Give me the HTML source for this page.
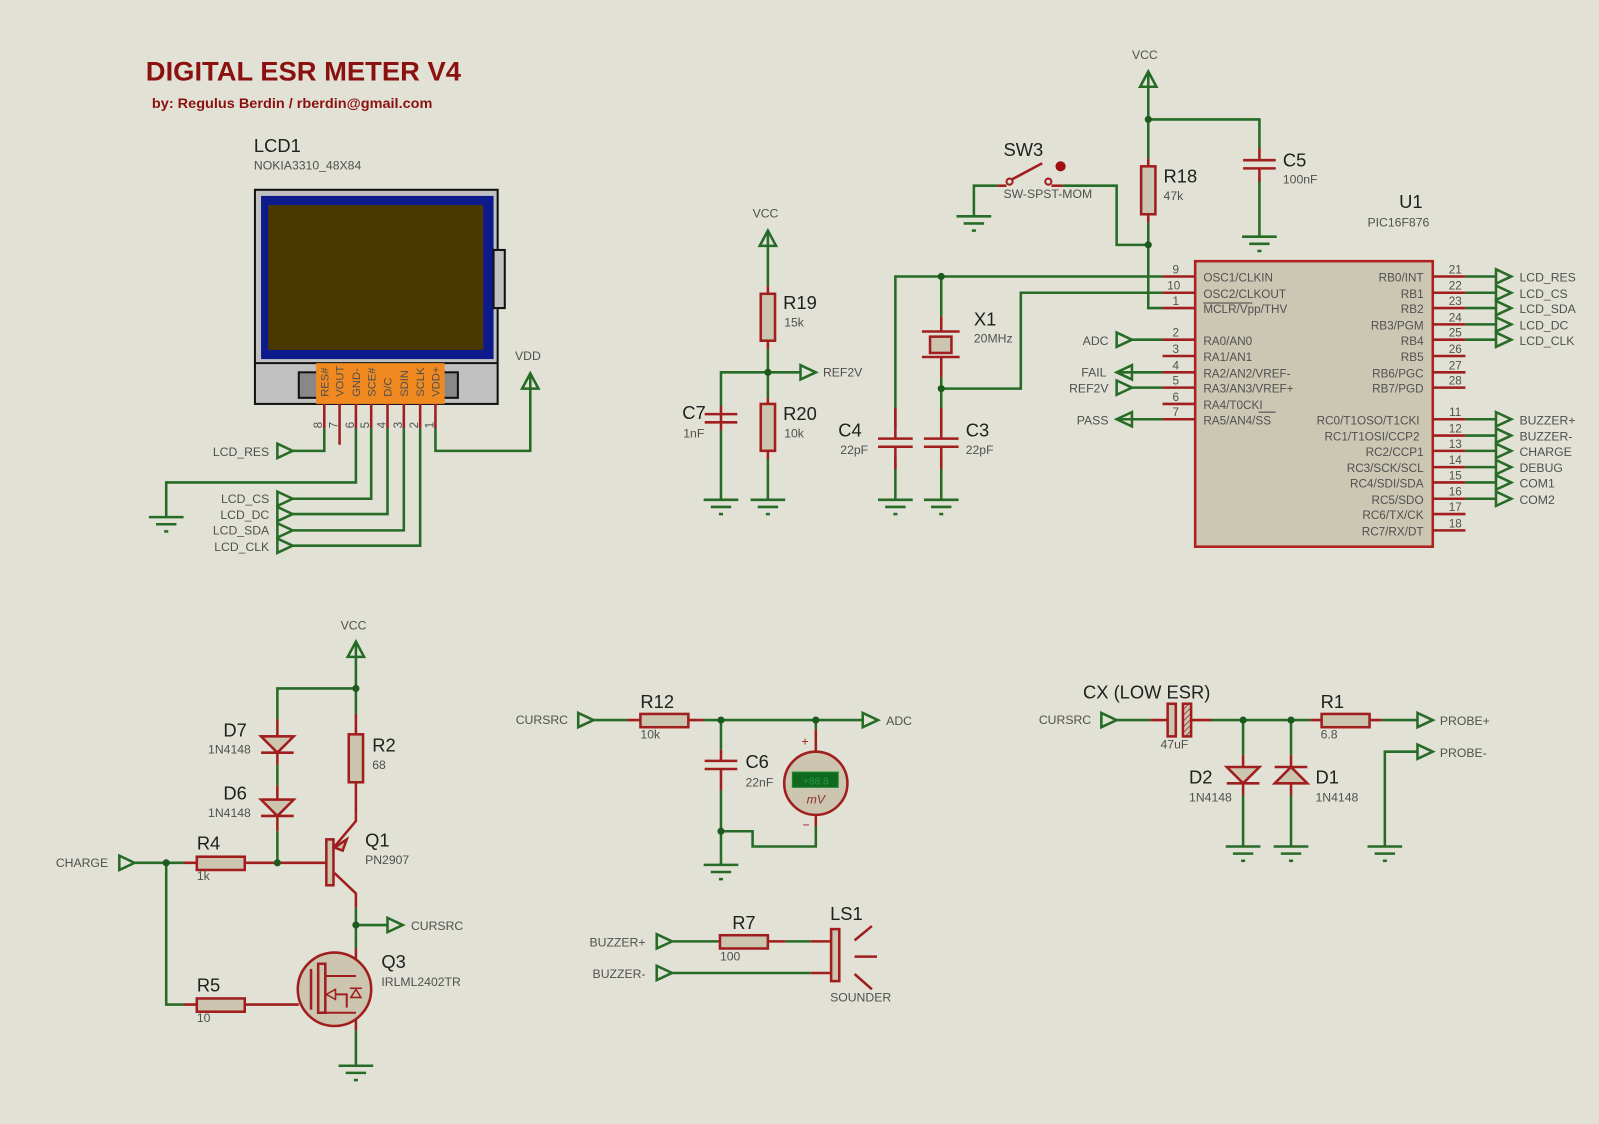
<!DOCTYPE html>
<html><head><meta charset="utf-8"><style>
html,body{margin:0;padding:0;background:#e2e1d5;}
svg{display:block;}
text{font-family:"Liberation Sans",sans-serif;fill:#505050;}
.big{font-size:18px;fill:#202020;}
.sm{font-size:12px;}
.pin{font-size:11.5px;fill:#404040;}
.g{stroke:#266b26;stroke-width:2.5;fill:none;}
.r{stroke:#a01e1e;stroke-width:2.5;fill:none;}
.rf{stroke:#a01e1e;stroke-width:2.5;fill:#ccc6b0;}
.ga{stroke:#266b26;stroke-width:2.5;fill:none;}
</style></head><body>
<svg width="1599" height="1124" viewBox="0 0 1568 1102" xmlns="http://www.w3.org/2000/svg">
<defs>
<g id="gnd"><line x1="-17" y1="0" x2="17" y2="0" class="g"/><line x1="-10" y1="7" x2="10" y2="7" class="g"/><line x1="-2" y1="14" x2="2" y2="14" class="g"/></g>
<g id="ar"><polygon points="0,-7 15,0 0,7" class="ga"/></g>
<g id="al"><polygon points="15,-7 0,0 15,7" class="ga"/></g>
<g id="pw"><polygon points="0,0 -8,15 8,15" class="ga"/><line x1="0" y1="0" x2="0" y2="15" class="g"/></g>
<pattern id="hatch" width="4" height="4" patternUnits="userSpaceOnUse" patternTransform="rotate(45)"><rect width="4" height="4" fill="#ccc6b0"/><line x1="0" y1="0" x2="0" y2="4" stroke="#a01e1e" stroke-width="1.5"/></pattern>
</defs>
<rect width="1568" height="1102" fill="#e2e1d5"/>

<!-- Title -->
<text x="143" y="79" textLength="309" lengthAdjust="spacingAndGlyphs" style="font-size:26px;font-weight:bold;fill:#8b1010">DIGITAL ESR METER V4</text>
<text x="149" y="106" textLength="275" lengthAdjust="spacingAndGlyphs" style="font-size:14px;font-weight:bold;fill:#8b1010">by: Regulus Berdin / rberdin@gmail.com</text>

<!-- LCD -->
<text x="249" y="149" class="big">LCD1</text>
<text x="249" y="166" class="sm">NOKIA3310_48X84</text>
<rect x="250" y="186" width="238" height="210" fill="#c0c0c0" stroke="#111" stroke-width="2"/>
<rect x="256" y="192" width="228" height="160" fill="#0c1a8c"/>
<rect x="263" y="201" width="211" height="142" fill="#4a3800"/>
<line x1="250" y1="356" x2="488" y2="356" stroke="#111" stroke-width="2"/>
<rect x="484" y="245" width="11" height="57" fill="#c0c0c0" stroke="#111" stroke-width="2"/>
<rect x="293" y="365" width="156" height="25" fill="#888" stroke="#111" stroke-width="2"/>
<rect x="310" y="356" width="126" height="40" fill="#f08a20"/>
<g style="font-size:11px;fill:#5a2a00">
<text transform="translate(322,389) rotate(-90)">RES#</text>
<text transform="translate(337,389) rotate(-90)">VOUT</text>
<text transform="translate(353,389) rotate(-90)">GND-</text>
<text transform="translate(368,389) rotate(-90)">SCE#</text>
<text transform="translate(384,389) rotate(-90)">D/C</text>
<text transform="translate(400,389) rotate(-90)">SDIN</text>
<text transform="translate(416,389) rotate(-90)">SCLK</text>
<text transform="translate(431,389) rotate(-90)">VDD+</text>
</g>
<g class="r">
<line x1="318" y1="396" x2="318" y2="420"/><line x1="333" y1="396" x2="333" y2="436"/><line x1="349" y1="396" x2="349" y2="420"/><line x1="364" y1="396" x2="364" y2="420"/><line x1="380" y1="396" x2="380" y2="420"/><line x1="396" y1="396" x2="396" y2="420"/><line x1="412" y1="396" x2="412" y2="420"/><line x1="427" y1="396" x2="427" y2="420"/>
</g>
<g class="pin">
<text transform="translate(316,420) rotate(-90)">8</text><text transform="translate(331,420) rotate(-90)">7</text><text transform="translate(347,420) rotate(-90)">6</text><text transform="translate(362,420) rotate(-90)">5</text><text transform="translate(378,420) rotate(-90)">4</text><text transform="translate(394,420) rotate(-90)">3</text><text transform="translate(410,420) rotate(-90)">2</text><text transform="translate(425,420) rotate(-90)">1</text>
</g>
<g class="g">
<polyline points="318,420 318,442 287,442"/>
<polyline points="349,420 349,473 163,473 163,507"/>
<polyline points="364,420 364,489 287,489"/>
<polyline points="380,420 380,504 287,504"/>
<polyline points="396,420 396,520 287,520"/>
<polyline points="412,420 412,535 287,535"/>
<polyline points="427,420 427,442 520,442 520,380"/>
</g>
<use href="#gnd" x="163" y="507"/>
<use href="#pw" x="520" y="366"/>
<text x="505" y="353" class="sm">VDD</text>
<use href="#ar" x="272" y="442"/><use href="#ar" x="272" y="489"/><use href="#ar" x="272" y="504"/><use href="#ar" x="272" y="520"/><use href="#ar" x="272" y="535"/>
<g class="sm" text-anchor="end">
<text x="264" y="447">LCD_RES</text><text x="264" y="493">LCD_CS</text><text x="264" y="509">LCD_DC</text><text x="264" y="524">LCD_SDA</text><text x="264" y="540">LCD_CLK</text>
</g>

<!-- REF divider -->
<text x="738" y="213" class="sm">VCC</text>
<use href="#pw" x="753" y="226"/>
<g class="g">
<line x1="753" y1="241" x2="753" y2="280"/><line x1="753" y1="342" x2="753" y2="390"/><line x1="753" y1="450" x2="753" y2="490"/>
<polyline points="785,365 707,365 707,398"/><line x1="707" y1="422" x2="707" y2="490"/>
</g>
<g class="r"><line x1="753" y1="280" x2="753" y2="342"/><line x1="753" y1="390" x2="753" y2="450"/><line x1="707" y1="398" x2="707" y2="422"/>
<line x1="691" y1="406" x2="723" y2="406"/><line x1="691" y1="414" x2="723" y2="414"/></g>
<rect x="746" y="288" width="14" height="46" class="rf"/>
<rect x="746" y="396" width="14" height="46" class="rf"/>
<circle cx="753" cy="365" r="3.5" fill="#1d5a1d"/>
<use href="#ar" x="785" y="365"/>
<text x="807" y="369" class="sm">REF2V</text>
<use href="#gnd" x="707" y="490"/><use href="#gnd" x="753" y="490"/>
<text x="768" y="303" class="big">R19</text><text x="769" y="320" class="sm">15k</text>
<text x="768" y="412" class="big">R20</text><text x="769" y="429" class="sm">10k</text>
<text x="669" y="411" class="big">C7</text><text x="670" y="429" class="sm">1nF</text>

<!-- Crystal -->
<g class="g">
<polyline points="1140,271 878,271 878,420"/><line x1="878" y1="448" x2="878" y2="490"/>
<line x1="923" y1="271" x2="923" y2="310"/>
<polyline points="923,370 923,381 1001,381 1001,287 1140,287"/>
<line x1="923" y1="381" x2="923" y2="420"/><line x1="923" y1="448" x2="923" y2="490"/>
</g>
<g class="r">
<line x1="923" y1="310" x2="923" y2="325"/><line x1="923" y1="350" x2="923" y2="370"/>
<line x1="904" y1="325" x2="941" y2="325"/><line x1="904" y1="350" x2="941" y2="350"/>
<line x1="878" y1="400" x2="878" y2="430"/><line x1="878" y1="438" x2="878" y2="460"/>
<line x1="861" y1="430" x2="895" y2="430"/><line x1="861" y1="438" x2="895" y2="438"/>
<line x1="923" y1="400" x2="923" y2="430"/><line x1="923" y1="438" x2="923" y2="460"/>
<line x1="906" y1="430" x2="940" y2="430"/><line x1="906" y1="438" x2="940" y2="438"/>
</g>
<rect x="912" y="330" width="21" height="16" class="rf"/>
<circle cx="923" cy="271" r="3.5" fill="#1d5a1d"/><circle cx="923" cy="381" r="3.5" fill="#1d5a1d"/>
<use href="#gnd" x="878" y="490"/><use href="#gnd" x="923" y="490"/>
<text x="955" y="319" class="big">X1</text><text x="955" y="336" class="sm">20MHz</text>
<text x="822" y="428" class="big">C4</text><text x="824" y="445" class="sm">22pF</text>
<text x="947" y="428" class="big">C3</text><text x="947" y="445" class="sm">22pF</text>

<!-- VCC / R18 / C5 / SW3 -->
<text x="1110" y="58" class="sm">VCC</text>
<use href="#pw" x="1126" y="70"/>
<g class="g">
<polyline points="1126,85 1126,155"/><polyline points="1126,117 1235,117 1235,145"/><line x1="1235" y1="175" x2="1235" y2="232"/>
<polyline points="1126,218 1126,302 1140,302"/>
<polyline points="1126,240 1095,240 1095,182 1042,182"/>
<polyline points="978,182 955,182 955,212"/>
</g>
<g class="r">
<line x1="1126" y1="155" x2="1126" y2="218"/>
<line x1="1235" y1="145" x2="1235" y2="157"/><line x1="1235" y1="165" x2="1235" y2="178"/>
<line x1="1219" y1="157" x2="1251" y2="157"/><line x1="1219" y1="165" x2="1251" y2="165"/>
<line x1="978" y1="182" x2="987" y2="182"/><line x1="1031" y1="182" x2="1042" y2="182"/>
<line x1="992" y1="176" x2="1022" y2="160"/>
</g>
<circle cx="990" cy="178" r="3" fill="none" stroke="#a01e1e" stroke-width="2"/>
<circle cx="1028" cy="178" r="3" fill="none" stroke="#a01e1e" stroke-width="2"/>
<circle cx="1040" cy="163" r="5" fill="#a01010"/>
<rect x="1119" y="163" width="14" height="47" class="rf"/>
<circle cx="1126" cy="117" r="3.5" fill="#1d5a1d"/><circle cx="1126" cy="240" r="3.5" fill="#1d5a1d"/>
<use href="#gnd" x="1235" y="232"/><use href="#gnd" x="955" y="212"/>
<text x="984" y="153" class="big">SW3</text><text x="984" y="194" class="sm">SW-SPST-MOM</text>
<text x="1141" y="179" class="big">R18</text><text x="1141" y="196" class="sm">47k</text>
<text x="1258" y="163" class="big">C5</text><text x="1258" y="180" class="sm">100nF</text>

<!-- U1 -->
<text x="1372" y="204" class="big">U1</text><text x="1341" y="222" class="sm">PIC16F876</text>
<rect x="1172" y="256" width="233" height="280" fill="#ccc7b2" stroke="#b02020" stroke-width="2.5"/>
<g class="r">
<line x1="1140" y1="271" x2="1172" y2="271"/><line x1="1140" y1="287" x2="1172" y2="287"/><line x1="1140" y1="302" x2="1172" y2="302"/>
<line x1="1140" y1="333" x2="1172" y2="333"/><line x1="1140" y1="349" x2="1172" y2="349"/><line x1="1140" y1="365" x2="1172" y2="365"/><line x1="1140" y1="380" x2="1172" y2="380"/><line x1="1140" y1="396" x2="1172" y2="396"/><line x1="1140" y1="411" x2="1172" y2="411"/>
<line x1="1405" y1="271" x2="1437" y2="271"/><line x1="1405" y1="287" x2="1437" y2="287"/><line x1="1405" y1="302" x2="1437" y2="302"/><line x1="1405" y1="318" x2="1437" y2="318"/><line x1="1405" y1="333" x2="1437" y2="333"/><line x1="1405" y1="349" x2="1437" y2="349"/><line x1="1405" y1="365" x2="1437" y2="365"/><line x1="1405" y1="380" x2="1437" y2="380"/>
<line x1="1405" y1="411" x2="1437" y2="411"/><line x1="1405" y1="427" x2="1437" y2="427"/><line x1="1405" y1="442" x2="1437" y2="442"/><line x1="1405" y1="458" x2="1437" y2="458"/><line x1="1405" y1="473" x2="1437" y2="473"/><line x1="1405" y1="489" x2="1437" y2="489"/><line x1="1405" y1="504" x2="1437" y2="504"/><line x1="1405" y1="520" x2="1437" y2="520"/>
</g>
<g class="pin" text-anchor="middle">
<text x="1153" y="268">9</text><text x="1151" y="284">10</text><text x="1153" y="299">1</text><text x="1153" y="330">2</text><text x="1153" y="346">3</text><text x="1153" y="362">4</text><text x="1153" y="377">5</text><text x="1153" y="393">6</text><text x="1153" y="408">7</text>
<text x="1427" y="268">21</text><text x="1427" y="284">22</text><text x="1427" y="299">23</text><text x="1427" y="315">24</text><text x="1427" y="330">25</text><text x="1427" y="346">26</text><text x="1427" y="362">27</text><text x="1427" y="377">28</text>
<text x="1427" y="408">11</text><text x="1427" y="424">12</text><text x="1427" y="439">13</text><text x="1427" y="455">14</text><text x="1427" y="470">15</text><text x="1427" y="486">16</text><text x="1427" y="501">17</text><text x="1427" y="517">18</text>
</g>
<g class="pin">
<text x="1180" y="276">OSC1/CLKIN</text><text x="1180" y="292">OSC2/CLKOUT</text><text x="1180" y="307">MCLR/Vpp/THV</text>
<text x="1180" y="338">RA0/AN0</text><text x="1180" y="354">RA1/AN1</text><text x="1180" y="370">RA2/AN2/VREF-</text><text x="1180" y="385">RA3/AN3/VREF+</text><text x="1180" y="401">RA4/T0CKI</text><text x="1180" y="416">RA5/AN4/SS</text>
</g>
<line x1="1180" y1="297" x2="1228" y2="297" stroke="#404040" stroke-width="1"/>
<line x1="1234" y1="404" x2="1251" y2="404" stroke="#404040" stroke-width="1"/>
<g class="pin" text-anchor="end">
<text x="1396" y="276">RB0/INT</text><text x="1396" y="292">RB1</text><text x="1396" y="307">RB2</text><text x="1396" y="323">RB3/PGM</text><text x="1396" y="338">RB4</text><text x="1396" y="354">RB5</text><text x="1396" y="370">RB6/PGC</text><text x="1396" y="385">RB7/PGD</text>
<text x="1392" y="416">RC0/T1OSO/T1CKI</text><text x="1392" y="432">RC1/T1OSI/CCP2</text><text x="1396" y="447">RC2/CCP1</text><text x="1396" y="463">RC3/SCK/SCL</text><text x="1396" y="478">RC4/SDI/SDA</text><text x="1396" y="494">RC5/SDO</text><text x="1396" y="509">RC6/TX/CK</text><text x="1396" y="525">RC7/RX/DT</text>
</g>
<g class="g">
<line x1="1437" y1="271" x2="1467" y2="271"/><line x1="1437" y1="287" x2="1467" y2="287"/><line x1="1437" y1="302" x2="1467" y2="302"/><line x1="1437" y1="318" x2="1467" y2="318"/><line x1="1437" y1="333" x2="1467" y2="333"/>
<line x1="1437" y1="411" x2="1467" y2="411"/><line x1="1437" y1="427" x2="1467" y2="427"/><line x1="1437" y1="442" x2="1467" y2="442"/><line x1="1437" y1="458" x2="1467" y2="458"/><line x1="1437" y1="473" x2="1467" y2="473"/><line x1="1437" y1="489" x2="1467" y2="489"/>
<line x1="1110" y1="333" x2="1140" y2="333"/><line x1="1095" y1="365" x2="1140" y2="365"/><line x1="1110" y1="380" x2="1140" y2="380"/><line x1="1095" y1="411" x2="1140" y2="411"/>
</g>
<use href="#ar" x="1467" y="271"/><use href="#ar" x="1467" y="287"/><use href="#ar" x="1467" y="302"/><use href="#ar" x="1467" y="318"/><use href="#ar" x="1467" y="333"/>
<use href="#ar" x="1467" y="411"/><use href="#ar" x="1467" y="427"/><use href="#ar" x="1467" y="442"/><use href="#ar" x="1467" y="458"/><use href="#ar" x="1467" y="473"/><use href="#ar" x="1467" y="489"/>
<g class="sm">
<text x="1490" y="276">LCD_RES</text><text x="1490" y="292">LCD_CS</text><text x="1490" y="307">LCD_SDA</text><text x="1490" y="323">LCD_DC</text><text x="1490" y="338">LCD_CLK</text>
<text x="1490" y="416">BUZZER+</text><text x="1490" y="432">BUZZER-</text><text x="1490" y="447">CHARGE</text><text x="1490" y="463">DEBUG</text><text x="1490" y="478">COM1</text><text x="1490" y="494">COM2</text>
</g>
<use href="#ar" x="1095" y="333"/><use href="#al" x="1095" y="365"/><use href="#ar" x="1095" y="380"/><use href="#al" x="1095" y="411"/>
<g class="sm" text-anchor="end">
<text x="1087" y="338">ADC</text><text x="1085" y="369">FAIL</text><text x="1087" y="385">REF2V</text><text x="1087" y="416">PASS</text>
</g>

<!-- Current source -->
<text x="334" y="617" class="sm">VCC</text>
<use href="#pw" x="349" y="629"/>
<g class="g">
<polyline points="349,644 349,700"/><polyline points="349,675 272,675 272,705"/>
<line x1="272" y1="750" x2="272" y2="770"/><polyline points="272,815 272,846"/>
<line x1="132" y1="846" x2="180" y2="846"/><polyline points="163,846 163,985 180,985"/>
<polyline points="349,890 349,930"/><line x1="349" y1="907" x2="380" y2="907"/>
<line x1="349" y1="1010" x2="349" y2="1045"/>
</g>
<g class="r">
<line x1="272" y1="705" x2="272" y2="750"/><line x1="256" y1="722" x2="288" y2="722"/><line x1="256" y1="738" x2="288" y2="738"/>
<line x1="272" y1="770" x2="272" y2="815"/><line x1="256" y1="784" x2="288" y2="784"/><line x1="256" y1="800" x2="288" y2="800"/>
<line x1="349" y1="700" x2="349" y2="800"/><polyline points="349,800 349,805 328,830"/>
<polyline points="328,856 349,876 349,890"/>
<line x1="180" y1="846" x2="320" y2="846"/>
<line x1="180" y1="985" x2="293" y2="985"/>
<line x1="349" y1="930" x2="349" y2="1010"/>
</g>
<polygon points="256,722 288,722 272,738" class="rf"/>
<polygon points="256,784 288,784 272,800" class="rf"/>
<rect x="342" y="720" width="14" height="47" class="rf"/>
<rect x="193" y="840" width="47" height="13" class="rf"/>
<rect x="193" y="979" width="47" height="13" class="rf"/>
<rect x="320" y="823" width="7" height="45" class="rf"/>
<polygon points="328,831 340,823 336,834" class="rf"/>
<circle cx="272" cy="846" r="3.5" fill="#1d5a1d"/><circle cx="349" cy="675" r="3.5" fill="#1d5a1d"/><circle cx="163" cy="846" r="3.5" fill="#1d5a1d"/><circle cx="349" cy="907" r="3.5" fill="#1d5a1d"/>
<circle cx="328" cy="970" r="36" fill="#ccc6b0" stroke="#a01e1e" stroke-width="2.5"/>
<rect x="312" y="945" width="7" height="48" class="rf"/>
<line x1="305" y1="950" x2="305" y2="990" class="r"/>
<polyline points="319,975 340,975 340,988" class="r" style="stroke-width:2"/>
<polygon points="320,975 329,970 329,980" class="rf" style="stroke-width:1.5"/>
<polyline points="319,957 349,957" class="r" style="stroke-width:2"/>
<polyline points="319,993 349,993" class="r" style="stroke-width:2"/>
<polygon points="344,978 354,978 349,970" class="rf" style="stroke-width:1.5"/>
<line x1="343" y1="969" x2="355" y2="969" class="r" style="stroke-width:1.5"/>
<use href="#gnd" x="349" y="1045"/>
<use href="#ar" x="117" y="846"/><use href="#ar" x="380" y="907"/>
<text x="106" y="850" class="sm" text-anchor="end">CHARGE</text>
<text x="403" y="912" class="sm">CURSRC</text>
<text x="219" y="722" class="big">D7</text><text x="204" y="739" class="sm">1N4148</text>
<text x="219" y="784" class="big">D6</text><text x="204" y="801" class="sm">1N4148</text>
<text x="365" y="737" class="big">R2</text><text x="365" y="754" class="sm">68</text>
<text x="358" y="830" class="big">Q1</text><text x="358" y="847" class="sm">PN2907</text>
<text x="193" y="833" class="big">R4</text><text x="193" y="863" class="sm">1k</text>
<text x="193" y="972" class="big">R5</text><text x="193" y="1002" class="sm">10</text>
<text x="374" y="949" class="big">Q3</text><text x="374" y="967" class="sm">IRLML2402TR</text>

<!-- R12/C6/meter -->
<use href="#ar" x="567" y="706"/>
<text x="557" y="710" class="sm" text-anchor="end">CURSRC</text>
<g class="g">
<line x1="582" y1="706" x2="615" y2="706"/><line x1="690" y1="706" x2="846" y2="706"/>
<line x1="707" y1="706" x2="707" y2="735"/><polyline points="707,775 707,848"/>
<polyline points="800,810 800,830 738,830 738,815 707,815"/>
</g>
<g class="r">
<line x1="615" y1="706" x2="690" y2="706"/>
<line x1="707" y1="735" x2="707" y2="746"/><line x1="707" y1="754" x2="707" y2="775"/>
<line x1="691" y1="746" x2="723" y2="746"/><line x1="691" y1="754" x2="723" y2="754"/>
<line x1="800" y1="715" x2="800" y2="737"/><line x1="800" y1="799" x2="800" y2="810"/>
</g>
<line x1="800" y1="706" x2="800" y2="715" class="g"/>
<rect x="628" y="700" width="47" height="13" class="rf"/>
<circle cx="707" cy="706" r="3.5" fill="#1d5a1d"/><circle cx="800" cy="706" r="3.5" fill="#1d5a1d"/><circle cx="707" cy="815" r="3.5" fill="#1d5a1d"/>
<circle cx="800" cy="768" r="31" fill="#ccc6b0" stroke="#a01e1e" stroke-width="2.5"/>
<rect x="777" y="757" width="45" height="15" fill="#0f6a1f" stroke="#1f8a2f"/>
<text x="800" y="769" text-anchor="middle" style="font-size:10px;fill:#2a9a3a">+88.8</text>
<text x="800" y="788" text-anchor="middle" style="font-size:12px;font-style:italic;fill:#8a3030">mV</text>
<text x="786" y="731" class="sm" style="fill:#a01e1e">+</text>
<text x="787" y="813" class="sm" style="fill:#a01e1e">−</text>
<use href="#gnd" x="707" y="848"/>
<use href="#ar" x="846" y="706"/>
<text x="869" y="711" class="sm">ADC</text>
<text x="628" y="694" class="big">R12</text><text x="628" y="724" class="sm">10k</text>
<text x="731" y="753" class="big">C6</text><text x="731" y="771" class="sm">22nF</text>

<!-- Buzzer -->
<use href="#ar" x="644" y="923"/><use href="#ar" x="644" y="954"/>
<text x="633" y="928" class="sm" text-anchor="end">BUZZER+</text>
<text x="633" y="959" class="sm" text-anchor="end">BUZZER-</text>
<g class="g"><line x1="659" y1="923" x2="704" y2="923"/><line x1="770" y1="923" x2="795" y2="923"/><line x1="659" y1="954" x2="795" y2="954"/></g>
<g class="r"><line x1="704" y1="923" x2="770" y2="923"/><line x1="795" y1="923" x2="815" y2="923"/><line x1="795" y1="954" x2="815" y2="954"/>
<line x1="838" y1="922" x2="855" y2="908"/><line x1="838" y1="938" x2="860" y2="938"/><line x1="838" y1="955" x2="855" y2="970"/></g>
<rect x="706" y="917" width="47" height="13" class="rf"/>
<rect x="815" y="911" width="8" height="51" class="rf"/>
<text x="718" y="911" class="big">R7</text><text x="706" y="942" class="sm">100</text>
<text x="814" y="902" class="big">LS1</text><text x="814" y="982" class="sm">SOUNDER</text>

<!-- CX / probes -->
<use href="#ar" x="1080" y="706"/>
<text x="1070" y="710" class="sm" text-anchor="end">CURSRC</text>
<g class="g">
<line x1="1095" y1="706" x2="1128" y2="706"/><line x1="1188" y1="706" x2="1285" y2="706"/><line x1="1355" y1="706" x2="1390" y2="706"/>
<line x1="1219" y1="706" x2="1219" y2="740"/><line x1="1219" y1="780" x2="1219" y2="830"/>
<line x1="1266" y1="706" x2="1266" y2="740"/><line x1="1266" y1="780" x2="1266" y2="830"/>
<polyline points="1390,737 1358,737 1358,830"/>
</g>
<g class="r">
<line x1="1128" y1="706" x2="1145" y2="706"/><line x1="1168" y1="706" x2="1188" y2="706"/>
<line x1="1285" y1="706" x2="1355" y2="706"/>
<line x1="1219" y1="740" x2="1219" y2="780"/><line x1="1203" y1="768" x2="1235" y2="768"/>
<line x1="1266" y1="740" x2="1266" y2="780"/><line x1="1250" y1="752" x2="1282" y2="752"/>
</g>
<rect x="1145" y="690" width="8" height="32" class="rf"/>
<rect x="1160" y="690" width="8" height="32" fill="url(#hatch)" stroke="#a01e1e" stroke-width="2.5"/>
<rect x="1296" y="700" width="47" height="13" class="rf"/>
<polygon points="1203,752 1235,752 1219,768" class="rf"/>
<polygon points="1250,768 1282,768 1266,752" class="rf"/>
<circle cx="1219" cy="706" r="3.5" fill="#1d5a1d"/><circle cx="1266" cy="706" r="3.5" fill="#1d5a1d"/>
<use href="#gnd" x="1219" y="830"/><use href="#gnd" x="1266" y="830"/><use href="#gnd" x="1358" y="830"/>
<use href="#ar" x="1390" y="706"/><use href="#ar" x="1390" y="737"/>
<text x="1412" y="711" class="sm">PROBE+</text><text x="1412" y="742" class="sm">PROBE-</text>
<text x="1062" y="685" class="big">CX (LOW ESR)</text><text x="1138" y="734" class="sm">47uF</text>
<text x="1295" y="694" class="big">R1</text><text x="1295" y="724" class="sm">6.8</text>
<text x="1166" y="768" class="big">D2</text><text x="1166" y="786" class="sm">1N4148</text>
<text x="1290" y="768" class="big">D1</text><text x="1290" y="786" class="sm">1N4148</text>
</svg>
</body></html>
